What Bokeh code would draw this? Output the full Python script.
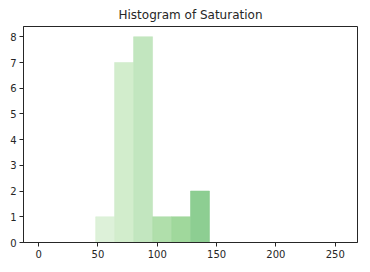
from bokeh.plotting import figure
from bokeh.models import Range1d, FixedTicker
from bokeh.embed import file_html
from bokeh.resources import INLINE

bin_left = [48, 64, 80, 96, 112, 128]
bin_right = [64, 80, 96, 112, 128, 144]
counts = [1, 7, 8, 1, 1, 2]
colors = ["#ddf1d9", "#d2edcc", "#c2e6bf", "#b0dfab", "#a0d89c", "#8dce92"]
x_ticks = [0, 50, 100, 150, 200, 250]
y_ticks = [0, 1, 2, 3, 4, 5, 6, 7, 8]

p = figure(width=370, height=272, output_backend="svg", toolbar_location=None,
           x_range=Range1d(-12.8, 268.8), y_range=Range1d(0, 8.4),
           title="Histogram of Saturation",
           min_border_left=23, min_border_right=13, min_border_top=24, min_border_bottom=30)
p.quad(left=bin_left, right=bin_right, bottom=0, top=counts, fill_color=colors,
       line_color=colors, line_width=0.6)

p.title.align = "center"
p.title.text_font = "DejaVu Sans"
p.title.text_font_size = "12px"
p.title.text_font_style = "normal"
p.title.text_color = "#262626"

p.xgrid.grid_line_color = None
p.ygrid.grid_line_color = None
p.outline_line_color = "#262626"
p.outline_line_width = 1
p.outline_line_alpha = 1

p.xaxis.ticker = FixedTicker(ticks=x_ticks)
p.yaxis.ticker = FixedTicker(ticks=y_ticks)
for ax in (p.xaxis, p.yaxis):
    ax.axis_line_color = "#262626"
    ax.major_tick_line_color = "#262626"
    ax.major_tick_in = 0
    ax.major_tick_out = 4
    ax.minor_tick_line_color = None
    ax.major_label_text_font = "DejaVu Sans"
    ax.major_label_text_font_size = "10px"
    ax.major_label_text_color = "#262626"
    ax.major_label_standoff = 3

p.background_fill_color = "white"
p.border_fill_color = "white"

open("out.html", "w").write(file_html(p, INLINE))
